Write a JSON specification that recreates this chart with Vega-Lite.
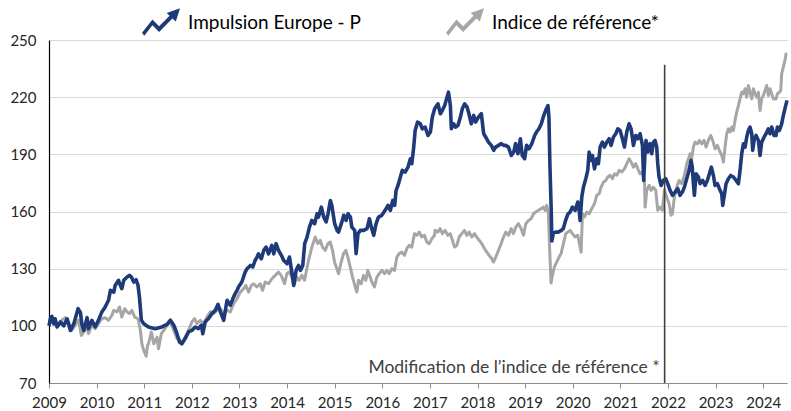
{
  "$schema": "https://vega.github.io/schema/vega-lite/v6.json",
  "width": 738,
  "height": 343,
  "autosize": "none",
  "padding": {"left": 49, "top": 40, "right": 4, "bottom": 28},
  "background": "white",
  "config": {
    "view": {"stroke": null},
    "font": "Lato",
    "axis": {"labelFont": "Lato", "labelFontSize": 15, "labelColor": "#262626"},
    "legend": {"labelFont": "Lato"}
  },
  "datasets": {
    "imp": [
      {"t":2009.00,"v":100},{"t":2009.03,"v":104},{"t":2009.06,"v":105},{"t":2009.10,"v":101},{"t":2009.13,"v":103.7},{"t":2009.17,"v":99.4},{"t":2009.24,"v":102},{"t":2009.31,"v":100},{"t":2009.38,"v":103.7},{"t":2009.45,"v":97.6},{"t":2009.52,"v":101},{"t":2009.61,"v":109},{"t":2009.66,"v":107},{"t":2009.69,"v":101},{"t":2009.73,"v":97.6},{"t":2009.80,"v":104.3},{"t":2009.83,"v":98.5},{"t":2009.90,"v":102.9},{"t":2009.97,"v":99.4},
      {"t":2010.04,"v":103},{"t":2010.11,"v":107.3},{"t":2010.18,"v":109.9},{"t":2010.25,"v":113.4},{"t":2010.29,"v":118.6},{"t":2010.36,"v":117.7},{"t":2010.39,"v":121.2},{"t":2010.46,"v":123.9},{"t":2010.50,"v":121.2},{"t":2010.53,"v":119.5},{"t":2010.57,"v":123.9},{"t":2010.64,"v":125.6},{"t":2010.69,"v":126.5},{"t":2010.73,"v":125.6},{"t":2010.78,"v":123},{"t":2010.83,"v":124.2},{"t":2010.87,"v":121.2},{"t":2010.90,"v":115},{"t":2010.94,"v":103},{"t":2010.99,"v":101.1},
      {"t":2011.09,"v":99.4},{"t":2011.23,"v":98.5},{"t":2011.37,"v":99.4},{"t":2011.48,"v":100.8},{"t":2011.55,"v":103},{"t":2011.62,"v":100.3},{"t":2011.68,"v":96.5},{"t":2011.74,"v":91.5},{"t":2011.79,"v":90.6},{"t":2011.86,"v":93.3},{"t":2011.93,"v":96.8},
      {"t":2012.00,"v":97.6},{"t":2012.07,"v":99.4},{"t":2012.14,"v":98.5},{"t":2012.20,"v":100.3},{"t":2012.23,"v":95.9},{"t":2012.28,"v":102},{"t":2012.35,"v":103.8},{"t":2012.42,"v":106.4},{"t":2012.49,"v":108.1},{"t":2012.55,"v":111.3},{"t":2012.60,"v":107.3},{"t":2012.67,"v":102.9},{"t":2012.74,"v":113.4},{"t":2012.81,"v":110.8},{"t":2012.86,"v":114.2},{"t":2012.91,"v":116.9},{"t":2012.95,"v":118.6},{"t":2012.98,"v":120.4},
      {"t":2013.05,"v":123},{"t":2013.12,"v":128.2},{"t":2013.16,"v":130},{"t":2013.23,"v":131.7},{"t":2013.28,"v":130.9},{"t":2013.33,"v":134.3},{"t":2013.37,"v":136.1},{"t":2013.40,"v":137.8},{"t":2013.46,"v":135.2},{"t":2013.51,"v":139.6},{"t":2013.56,"v":141.3},{"t":2013.61,"v":137.8},{"t":2013.68,"v":142.2},{"t":2013.72,"v":137.8},{"t":2013.77,"v":143.1},{"t":2013.82,"v":139.6},{"t":2013.88,"v":137},{"t":2013.93,"v":134.3},
      {"t":2014.00,"v":132.6},{"t":2014.05,"v":136.1},{"t":2014.10,"v":128.2},{"t":2014.14,"v":121.2},{"t":2014.19,"v":129.1},{"t":2014.24,"v":131.7},{"t":2014.28,"v":129.1},{"t":2014.33,"v":131.7},{"t":2014.37,"v":143.1},{"t":2014.42,"v":146.6},{"t":2014.47,"v":151.8},{"t":2014.52,"v":155.3},{"t":2014.58,"v":153.6},{"t":2014.63,"v":158.8},{"t":2014.66,"v":157.1},{"t":2014.72,"v":162.3},{"t":2014.77,"v":157.1},{"t":2014.82,"v":154.5},{"t":2014.86,"v":158.8},{"t":2014.91,"v":165.8},{"t":2014.94,"v":163.2},
      {"t":2015.00,"v":153.6},{"t":2015.05,"v":150.1},{"t":2015.08,"v":149.2},{"t":2015.14,"v":153.6},{"t":2015.19,"v":158},{"t":2015.24,"v":155.3},{"t":2015.28,"v":158.8},{"t":2015.33,"v":157.1},{"t":2015.36,"v":151.8},{"t":2015.42,"v":150.1},{"t":2015.45,"v":137.9},{"t":2015.49,"v":148.4},{"t":2015.54,"v":150.1},{"t":2015.61,"v":150.1},{"t":2015.68,"v":151},{"t":2015.73,"v":156.2},{"t":2015.77,"v":151.8},{"t":2015.82,"v":147.5},{"t":2015.87,"v":153.6},{"t":2015.92,"v":157.1},{"t":2015.99,"v":158},
      {"t":2016.06,"v":160.6},{"t":2016.12,"v":163.2},{"t":2016.17,"v":160.6},{"t":2016.22,"v":165.8},{"t":2016.26,"v":163.2},{"t":2016.29,"v":171.1},{"t":2016.33,"v":173.7},{"t":2016.38,"v":178.1},{"t":2016.42,"v":181.6},{"t":2016.48,"v":180.7},{"t":2016.54,"v":183.3},{"t":2016.59,"v":187.7},{"t":2016.62,"v":185.1},{"t":2016.66,"v":193.8},{"t":2016.69,"v":202.5},{"t":2016.74,"v":206.9},{"t":2016.80,"v":206},{"t":2016.84,"v":203.4},{"t":2016.90,"v":204.3},{"t":2016.96,"v":199.9},
      {"t":2017.01,"v":201.7},{"t":2017.05,"v":209.5},{"t":2017.10,"v":213.9},{"t":2017.17,"v":216.5},{"t":2017.22,"v":211.3},{"t":2017.26,"v":213},{"t":2017.31,"v":215.6},{"t":2017.36,"v":220},{"t":2017.39,"v":222.6},{"t":2017.43,"v":215.6},{"t":2017.45,"v":203.4},{"t":2017.50,"v":206},{"t":2017.54,"v":204.3},{"t":2017.59,"v":205.2},{"t":2017.64,"v":209.5},{"t":2017.68,"v":213.9},{"t":2017.73,"v":216.5},{"t":2017.78,"v":214.8},{"t":2017.82,"v":211.3},{"t":2017.87,"v":206},{"t":2017.92,"v":210.4},{"t":2017.96,"v":206.9},
      {"t":2018.02,"v":209.5},{"t":2018.08,"v":211.3},{"t":2018.13,"v":200.8},{"t":2018.17,"v":199.1},{"t":2018.23,"v":196.4},{"t":2018.29,"v":194.7},{"t":2018.34,"v":192.1},{"t":2018.38,"v":193.8},{"t":2018.44,"v":194.7},{"t":2018.50,"v":195.6},{"t":2018.55,"v":194.7},{"t":2018.59,"v":194.7},{"t":2018.65,"v":193.8},{"t":2018.71,"v":189.4},{"t":2018.76,"v":191.2},{"t":2018.80,"v":195.6},{"t":2018.85,"v":190.3},{"t":2018.90,"v":198.2},{"t":2018.94,"v":189.4},{"t":2018.99,"v":187.7},
      {"t":2019.03,"v":194.7},{"t":2019.08,"v":192.9},{"t":2019.14,"v":195.6},{"t":2019.20,"v":199.9},{"t":2019.24,"v":201.7},{"t":2019.29,"v":203.4},{"t":2019.34,"v":206},{"t":2019.38,"v":209.5},{"t":2019.43,"v":213},{"t":2019.48,"v":215.6},{"t":2019.50,"v":209.5},{"t":2019.52,"v":185.1},{"t":2019.55,"v":158.8},{"t":2019.56,"v":144.5},{"t":2019.59,"v":148.4},{"t":2019.64,"v":149.2},{"t":2019.70,"v":149.2},{"t":2019.76,"v":150.1},{"t":2019.80,"v":151},{"t":2019.85,"v":155.3},{"t":2019.90,"v":158.8},{"t":2019.945,"v":159.7},{"t":2019.994,"v":162.3},
      {"t":2020.05,"v":160.6},{"t":2020.106,"v":165},{"t":2020.134,"v":160.6},{"t":2020.155,"v":155.3},{"t":2020.19,"v":167.6},{"t":2020.225,"v":172.8},{"t":2020.274,"v":177.2},{"t":2020.316,"v":181.6},{"t":2020.344,"v":191.2},{"t":2020.386,"v":186.8},{"t":2020.414,"v":189.4},{"t":2020.456,"v":182.4},{"t":2020.505,"v":187.7},{"t":2020.54,"v":185.1},{"t":2020.575,"v":193.8},{"t":2020.624,"v":196.4},{"t":2020.666,"v":193.8},{"t":2020.715,"v":196.4},{"t":2020.764,"v":198.2},{"t":2020.806,"v":194.7},{"t":2020.855,"v":199.1},{"t":2020.904,"v":200.8},{"t":2020.946,"v":203.4},{"t":2020.995,"v":202.5},
      {"t":2021.044,"v":198.2},{"t":2021.086,"v":193.8},{"t":2021.135,"v":201.7},{"t":2021.184,"v":206},{"t":2021.226,"v":203.4},{"t":2021.275,"v":194.7},{"t":2021.324,"v":199.9},{"t":2021.366,"v":198.2},{"t":2021.415,"v":200.8},{"t":2021.464,"v":194.7},{"t":2021.49,"v":176.3},{"t":2021.52,"v":192.1},{"t":2021.54,"v":197.3},{"t":2021.576,"v":191.2},{"t":2021.624,"v":195.6},{"t":2021.659,"v":190.3},{"t":2021.694,"v":196.4},{"t":2021.729,"v":197.3},{"t":2021.764,"v":193.8},{"t":2021.785,"v":185.1},{"t":2021.813,"v":178.1},{"t":2021.855,"v":173.7},{"t":2021.904,"v":176.3},{"t":2021.953,"v":177.2},{"t":2021.995,"v":174.6},
      {"t":2022.044,"v":171.1},{"t":2022.093,"v":168.5},{"t":2022.149,"v":170.2},{"t":2022.205,"v":172},{"t":2022.254,"v":168.5},{"t":2022.303,"v":170.2},{"t":2022.345,"v":172.8},{"t":2022.394,"v":177.2},{"t":2022.443,"v":181.6},{"t":2022.485,"v":186.8},{"t":2022.51,"v":183.3},{"t":2022.534,"v":174.6},{"t":2022.555,"v":168.5},{"t":2022.59,"v":179.8},{"t":2022.639,"v":178.1},{"t":2022.674,"v":174.6},{"t":2022.73,"v":176.3},{"t":2022.779,"v":173.7},{"t":2022.828,"v":176.3},{"t":2022.87,"v":179.8},{"t":2022.912,"v":183.3},{"t":2022.954,"v":178.9},{"t":2022.989,"v":173.7},
      {"t":2023.038,"v":174.6},{"t":2023.08,"v":172},{"t":2023.129,"v":169.3},{"t":2023.15,"v":163.2},{"t":2023.178,"v":167.6},{"t":2023.22,"v":174.6},{"t":2023.269,"v":177.2},{"t":2023.318,"v":178.9},{"t":2023.374,"v":178.1},{"t":2023.43,"v":176.3},{"t":2023.479,"v":174.6},{"t":2023.514,"v":181.6},{"t":2023.549,"v":190.3},{"t":2023.584,"v":195.5},{"t":2023.619,"v":193.8},{"t":2023.654,"v":199},{"t":2023.689,"v":202.5},{"t":2023.724,"v":204.3},{"t":2023.759,"v":200.8},{"t":2023.78,"v":192.1},{"t":2023.808,"v":197.3},{"t":2023.85,"v":199.9},{"t":2023.899,"v":197.3},{"t":2023.934,"v":189.4},{"t":2023.969,"v":196.4},
      {"t":2024.018,"v":199},{"t":2024.06,"v":200.8},{"t":2024.109,"v":203.4},{"t":2024.144,"v":200.8},{"t":2024.179,"v":204.3},{"t":2024.228,"v":199.9},{"t":2024.27,"v":199.9},{"t":2024.298,"v":204.3},{"t":2024.34,"v":202.5},{"t":2024.388,"v":206},{"t":2024.423,"v":210.4},{"t":2024.465,"v":214.8},{"t":2024.5,"v":218.3}
    ],
    "ref": [
      {"t":2009.00,"v":100.3},{"t":2009.06,"v":103.2},{"t":2009.13,"v":102},{"t":2009.20,"v":101},{"t":2009.27,"v":103},{"t":2009.34,"v":104.3},{"t":2009.41,"v":102},{"t":2009.48,"v":97.6},{"t":2009.55,"v":100.3},{"t":2009.62,"v":103},{"t":2009.68,"v":95},{"t":2009.73,"v":96.8},{"t":2009.80,"v":99.4},{"t":2009.83,"v":95.9},{"t":2009.90,"v":100.3},{"t":2009.97,"v":98.5},
      {"t":2010.04,"v":101.1},{"t":2010.11,"v":103.7},{"t":2010.18,"v":104.3},{"t":2010.25,"v":102.9},{"t":2010.32,"v":105.5},{"t":2010.36,"v":108.1},{"t":2010.43,"v":107.3},{"t":2010.48,"v":109.9},{"t":2010.53,"v":104.6},{"t":2010.59,"v":109},{"t":2010.64,"v":107.3},{"t":2010.69,"v":106.4},{"t":2010.74,"v":108.1},{"t":2010.80,"v":104.6},{"t":2010.87,"v":103.7},{"t":2010.92,"v":97.6},{"t":2010.95,"v":90.6},{"t":2010.99,"v":87.1},
      {"t":2011.02,"v":85.4},{"t":2011.04,"v":84},{"t":2011.07,"v":89.8},{"t":2011.09,"v":90.6},{"t":2011.15,"v":96.8},{"t":2011.20,"v":90.6},{"t":2011.27,"v":94.1},{"t":2011.30,"v":88},{"t":2011.36,"v":95.9},{"t":2011.41,"v":97.6},{"t":2011.48,"v":100.3},{"t":2011.55,"v":102},{"t":2011.62,"v":97.6},{"t":2011.69,"v":93.3},{"t":2011.73,"v":93.3},{"t":2011.79,"v":90.6},{"t":2011.86,"v":94.1},{"t":2011.93,"v":97.6},
      {"t":2012.00,"v":102},{"t":2012.058,"v":103.8},{"t":2012.107,"v":101.1},{"t":2012.177,"v":102.9},{"t":2012.247,"v":101.1},{"t":2012.317,"v":104.6},{"t":2012.387,"v":107.3},{"t":2012.457,"v":106.4},{"t":2012.527,"v":108.1},{"t":2012.597,"v":109},{"t":2012.667,"v":106.4},{"t":2012.737,"v":108.1},{"t":2012.807,"v":107.3},{"t":2012.877,"v":111.6},{"t":2012.947,"v":114.2},
      {"t":2013.017,"v":117.7},{"t":2013.087,"v":119.5},{"t":2013.136,"v":121.2},{"t":2013.192,"v":117.7},{"t":2013.248,"v":121.2},{"t":2013.297,"v":122.1},{"t":2013.367,"v":120.4},{"t":2013.437,"v":122.1},{"t":2013.486,"v":118.6},{"t":2013.541,"v":123},{"t":2013.611,"v":122.1},{"t":2013.681,"v":124.7},{"t":2013.751,"v":126.5},{"t":2013.821,"v":128.2},{"t":2013.877,"v":126.5},{"t":2013.947,"v":122.1},{"t":2013.996,"v":127.4},
      {"t":2014.045,"v":128.2},{"t":2014.101,"v":125.6},{"t":2014.157,"v":122.1},{"t":2014.206,"v":125.6},{"t":2014.255,"v":123.9},{"t":2014.311,"v":126.5},{"t":2014.367,"v":123.9},{"t":2014.451,"v":134.4},{"t":2014.521,"v":141.3},{"t":2014.591,"v":146.6},{"t":2014.647,"v":143.1},{"t":2014.696,"v":144.9},{"t":2014.745,"v":141.3},{"t":2014.801,"v":139.6},{"t":2014.857,"v":143.1},{"t":2014.906,"v":144},{"t":2014.955,"v":139.6},{"t":2014.997,"v":133.5},
      {"t":2015.046,"v":130},{"t":2015.081,"v":127.4},{"t":2015.137,"v":133.5},{"t":2015.186,"v":137.9},{"t":2015.235,"v":139.6},{"t":2015.277,"v":136.1},{"t":2015.326,"v":130.9},{"t":2015.375,"v":125.6},{"t":2015.431,"v":120.4},{"t":2015.466,"v":117.8},{"t":2015.501,"v":123.9},{"t":2015.557,"v":122.1},{"t":2015.606,"v":126.5},{"t":2015.655,"v":123.9},{"t":2015.697,"v":129.1},{"t":2015.746,"v":125.6},{"t":2015.781,"v":123},{"t":2015.837,"v":120.4},{"t":2015.886,"v":125.6},{"t":2015.935,"v":127.4},{"t":2015.991,"v":129.1},
      {"t":2016.047,"v":127.4},{"t":2016.096,"v":129.1},{"t":2016.145,"v":127.4},{"t":2016.201,"v":130},{"t":2016.257,"v":129.1},{"t":2016.306,"v":136.1},{"t":2016.355,"v":137.9},{"t":2016.411,"v":138.7},{"t":2016.467,"v":137},{"t":2016.515,"v":140.5},{"t":2016.564,"v":142.2},{"t":2016.62,"v":141.3},{"t":2016.676,"v":148.4},{"t":2016.725,"v":147.5},{"t":2016.774,"v":149.2},{"t":2016.83,"v":146.6},{"t":2016.886,"v":147.5},{"t":2016.935,"v":144},{"t":2016.984,"v":143.1},
      {"t":2017.04,"v":145.7},{"t":2017.096,"v":147.5},{"t":2017.11,"v":150.1},{"t":2017.166,"v":149.2},{"t":2017.215,"v":151},{"t":2017.264,"v":148.4},{"t":2017.32,"v":150.1},{"t":2017.376,"v":147.5},{"t":2017.425,"v":148.4},{"t":2017.474,"v":144.9},{"t":2017.516,"v":141.3},{"t":2017.565,"v":142.2},{"t":2017.614,"v":146.6},{"t":2017.67,"v":148.4},{"t":2017.726,"v":150.1},{"t":2017.775,"v":147.5},{"t":2017.824,"v":149.2},{"t":2017.88,"v":146.6},{"t":2017.936,"v":148.4},{"t":2017.985,"v":146.6},
      {"t":2018.034,"v":144.9},{"t":2018.09,"v":143.1},{"t":2018.146,"v":140.5},{"t":2018.195,"v":138.7},{"t":2018.244,"v":137},{"t":2018.3,"v":135.2},{"t":2018.335,"v":133.5},{"t":2018.384,"v":136.1},{"t":2018.44,"v":139.6},{"t":2018.496,"v":143.1},{"t":2018.545,"v":146.6},{"t":2018.594,"v":149.2},{"t":2018.65,"v":147.5},{"t":2018.706,"v":151},{"t":2018.755,"v":148.4},{"t":2018.804,"v":151.8},{"t":2018.86,"v":153.6},{"t":2018.916,"v":151},{"t":2018.965,"v":147.5},
      {"t":2019.014,"v":153.6},{"t":2019.07,"v":155.3},{"t":2019.126,"v":156.2},{"t":2019.175,"v":158.8},{"t":2019.223,"v":159.7},{"t":2019.279,"v":160.6},{"t":2019.335,"v":161.5},{"t":2019.384,"v":162.3},{"t":2019.419,"v":160.6},{"t":2019.454,"v":163.2},{"t":2019.489,"v":158.8},{"t":2019.524,"v":134.4},{"t":2019.545,"v":122.5},{"t":2019.573,"v":126.5},{"t":2019.615,"v":130.9},{"t":2019.664,"v":133.5},{"t":2019.713,"v":136.1},{"t":2019.755,"v":137.9},{"t":2019.804,"v":143.1},{"t":2019.853,"v":148.4},{"t":2019.896,"v":149.2},{"t":2019.945,"v":150.1},{"t":2019.994,"v":148.4},
      {"t":2020.05,"v":146.6},{"t":2020.106,"v":147.5},{"t":2020.155,"v":141.3},{"t":2020.176,"v":138.7},{"t":2020.204,"v":158.8},{"t":2020.246,"v":157.1},{"t":2020.295,"v":159.7},{"t":2020.344,"v":158.8},{"t":2020.4,"v":161.5},{"t":2020.456,"v":164.1},{"t":2020.505,"v":168.5},{"t":2020.554,"v":169.3},{"t":2020.596,"v":172.8},{"t":2020.645,"v":175.4},{"t":2020.694,"v":176.3},{"t":2020.736,"v":178.1},{"t":2020.785,"v":179},{"t":2020.834,"v":177.2},{"t":2020.876,"v":179.8},{"t":2020.925,"v":179},{"t":2020.974,"v":181.6},
      {"t":2021.03,"v":180.7},{"t":2021.086,"v":182.4},{"t":2021.135,"v":185.1},{"t":2021.184,"v":187.7},{"t":2021.226,"v":186},{"t":2021.275,"v":183.3},{"t":2021.324,"v":185.1},{"t":2021.366,"v":182.4},{"t":2021.415,"v":179.8},{"t":2021.464,"v":180.7},{"t":2021.506,"v":176.3},{"t":2021.52,"v":162.3},{"t":2021.555,"v":171.1},{"t":2021.604,"v":173.7},{"t":2021.646,"v":171.1},{"t":2021.694,"v":172.8},{"t":2021.743,"v":171.1},{"t":2021.785,"v":160.6},{"t":2021.834,"v":162.3},{"t":2021.883,"v":160.6},{"t":2021.925,"v":171.1},{"t":2021.974,"v":167.6},
      {"t":2022.023,"v":164.1},{"t":2022.065,"v":158},{"t":2022.093,"v":158.8},{"t":2022.135,"v":167.6},{"t":2022.184,"v":172.8},{"t":2022.233,"v":176.3},{"t":2022.289,"v":174.6},{"t":2022.345,"v":178.9},{"t":2022.394,"v":185.1},{"t":2022.443,"v":188.6},{"t":2022.464,"v":190.3},{"t":2022.499,"v":187.7},{"t":2022.534,"v":193.8},{"t":2022.569,"v":196.4},{"t":2022.618,"v":195.5},{"t":2022.66,"v":197.3},{"t":2022.709,"v":195.5},{"t":2022.758,"v":197.3},{"t":2022.8,"v":193.8},{"t":2022.849,"v":197.3},{"t":2022.898,"v":199.9},{"t":2022.94,"v":197.3},{"t":2022.989,"v":192.9},
      {"t":2023.038,"v":194.7},{"t":2023.08,"v":192.1},{"t":2023.129,"v":189.4},{"t":2023.164,"v":185.9},{"t":2023.199,"v":193.8},{"t":2023.234,"v":200.8},{"t":2023.269,"v":203.4},{"t":2023.304,"v":201.7},{"t":2023.339,"v":204.3},{"t":2023.374,"v":202.5},{"t":2023.409,"v":207.8},{"t":2023.444,"v":212.2},{"t":2023.479,"v":215.6},{"t":2023.514,"v":219.1},{"t":2023.549,"v":222.6},{"t":2023.584,"v":221.8},{"t":2023.619,"v":224.4},{"t":2023.654,"v":220},{"t":2023.689,"v":226.1},{"t":2023.724,"v":222.6},{"t":2023.759,"v":219.1},{"t":2023.794,"v":224.4},{"t":2023.829,"v":221.8},{"t":2023.864,"v":220},{"t":2023.899,"v":222.6},{"t":2023.934,"v":213},{"t":2023.969,"v":219.1},
      {"t":2024.004,"v":220.9},{"t":2024.039,"v":223.5},{"t":2024.074,"v":226.1},{"t":2024.109,"v":220.9},{"t":2024.144,"v":224.4},{"t":2024.179,"v":221.8},{"t":2024.214,"v":219.1},{"t":2024.27,"v":219.1},{"t":2024.298,"v":221.8},{"t":2024.34,"v":222.6},{"t":2024.368,"v":223.5},{"t":2024.388,"v":232.3},{"t":2024.423,"v":235.8},{"t":2024.458,"v":239.3},{"t":2024.479,"v":242.7},{"t":2024.5,"v":243}
    ],
    "marker": [{"t": 2021.93, "bottom": 70, "top": 237, "label": 75.5}]
  },
  "layer": [
    {
      "data": {"name": "ref"},
      "mark": {"type": "line", "strokeWidth": 3, "strokeJoin": "round"},
      "encoding": {
        "x": {"field": "t", "type": "quantitative",
              "scale": {"domain": [2009, 2024.5], "nice": false, "zero": false},
              "axis": {"values": [2009,2010,2011,2012,2013,2014,2015,2016,2017,2018,2019,2020,2021,2022,2023,2024],
                       "format": "d", "title": null, "grid": false, "labelFlush": false,
                       "domainColor": "#8C8C8C", "domainWidth": 1.2, "tickColor": "#8C8C8C", "tickSize": 5, "labelPadding": 7}},
        "y": {"field": "v", "type": "quantitative",
              "scale": {"domain": [70, 250], "nice": false, "zero": false},
              "axis": {"values": [70,100,130,160,190,220,250], "title": null, "grid": true, "gridColor": "#D9D9D9", "gridWidth": 1,
                       "ticks": false, "domainColor": "#000000", "domainWidth": 1.2, "labelPadding": 13, "labelFlush": false}},
        "color": {"datum": "Indice de référence*", "type": "nominal",
                  "scale": {"domain": ["Impulsion Europe - P", "Indice de référence*"], "range": ["#1E3A78", "#A6A6A6"]},
                  "legend": {
                    "title": null, "orient": "none", "direction": "horizontal",
                    "legendX": 93, "legendY": -36,
                    "symbolType": "M-1,0.5L-0.45,-0.2L-0.1,0.15L0.45,-0.4L0.3,-0.55L1,-0.8L0.78,-0.1L0.6,-0.25L-0.1,0.45L-0.45,0.1L-0.88,0.65Z",
                    "symbolSize": 1444, "symbolStrokeWidth": 0,
                    "labelFontSize": 19, "labelColor": "#000000", "labelOffset": 8, "columnPadding": 85, "labelLimit": 400,
                    "encode": {"symbols": {"update": {"fill": {"scale": "color", "field": "value"}, "strokeWidth": {"value": 0}}}}
                  }}
      }
    },
    {
      "data": {"name": "imp"},
      "mark": {"type": "line", "strokeWidth": 3.6, "strokeJoin": "round"},
      "encoding": {
        "x": {"field": "t", "type": "quantitative"},
        "y": {"field": "v", "type": "quantitative"},
        "color": {"datum": "Impulsion Europe - P", "type": "nominal"}
      }
    },
    {
      "data": {"name": "marker"},
      "mark": {"type": "rule", "color": "#404040", "strokeWidth": 1.6},
      "encoding": {
        "x": {"field": "t", "type": "quantitative"},
        "y": {"field": "bottom", "type": "quantitative"},
        "y2": {"field": "top"}
      }
    },
    {
      "data": {"name": "marker"},
      "mark": {"type": "text", "text": "Modification de l’indice de référence *", "align": "right", "baseline": "alphabetic", "font": "Lato", "fontSize": 17.5, "color": "#404040", "dx": -5},
      "encoding": {
        "x": {"field": "t", "type": "quantitative"},
        "y": {"field": "label", "type": "quantitative"}
      }
    }
  ]
}
